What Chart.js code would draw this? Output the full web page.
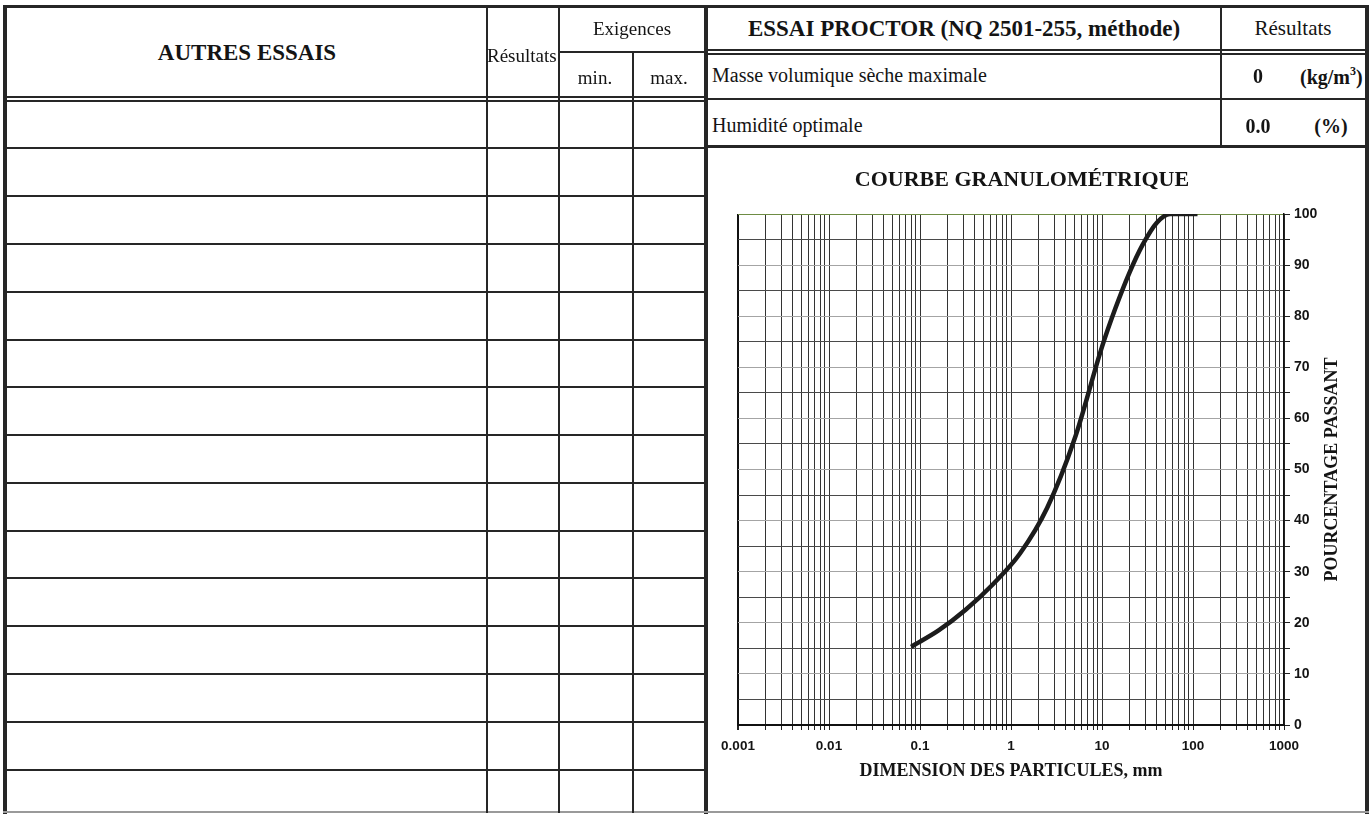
<!DOCTYPE html>
<html lang="fr">
<head>
<meta charset="utf-8">
<title>Courbe granulométrique</title>
<script src="https://cdn.jsdelivr.net/npm/chart.js@4.4.1/dist/chart.umd.min.js"></script>
<style>
    html, body { margin: 0; padding: 0; background: #fff; }
    #page { position: relative; width: 1370px; height: 814px; overflow: hidden; background: #fff;
            font-family: "Liberation Serif", "Times New Roman", serif; color: #141414; }
    #chart { position: absolute; left: 705px; top: 147px; }
    .ln { position: absolute; background: #262626; }
    .txt { position: absolute; white-space: nowrap; line-height: 1; transform: translateY(-50%); }
    .c { transform: translate(-50%, -50%); }
    .b { font-weight: bold; }
</style>
</head>
<body>
<div id="page">
    <canvas id="chart" width="660" height="667"></canvas>
</div>
<script>
// grain size curve
const sieveSizes = [0.08, 0.16, 0.315, 0.63, 1.25, 2.5, 5, 10, 14, 20, 28, 40, 56, 80, 112];
const percentPassing = [15.3, 18.5, 22.5, 27.5, 33.5, 42.5, 56, 74, 81.5, 88.5, 94, 98.3, 100, 100, 100];

const xTickValues = [0.001, 0.01, 0.1, 1, 10, 100, 1000];
const xTickLabels = ['0.001', '0.01', '0.1', '1', '10', '100', '1000'];
const yTickValues = [0, 10, 20, 30, 40, 50, 60, 70, 80, 90, 100];
const yTickLabels = ['0', '10', '20', '30', '40', '50', '60', '70', '80', '90', '100'];

const chartTitle = 'COURBE GRANULOMÉTRIQUE';
const xAxisTitle = 'DIMENSION DES PARTICULES, mm';
const yAxisTitle = 'POURCENTAGE PASSANT';

const proctorDensity = '0';
const proctorMoisture = '0.0';

const SERIF = '"Liberation Serif", "Times New Roman", serif';
const SANS = '"Liberation Sans", Arial, sans-serif';

// ---------- form (lines + text) ----------
const page = document.getElementById('page');

function line(x, y, w, h, color) {
    const d = document.createElement('div');
    d.className = 'ln';
    d.style.left = x + 'px';
    d.style.top = y + 'px';
    d.style.width = w + 'px';
    d.style.height = h + 'px';
    if (color) d.style.background = color;
    page.appendChild(d);
}

function text(str, x, y, size, cls, html) {
    const d = document.createElement('div');
    d.className = 'txt ' + (cls || '');
    d.style.left = x + 'px';
    d.style.top = y + 'px';
    d.style.fontSize = size + 'px';
    if (html) d.innerHTML = str; else d.textContent = str;
    page.appendChild(d);
}

// outer frame
line(3, 5, 1366, 3);
line(3, 5, 4, 809);
line(1365, 5, 4, 809);
line(704, 5, 4, 809);
line(3, 811, 1366, 2, '#9a9a9a');

// left table
line(7, 96, 697, 2);
line(7, 100, 697, 2);
[147, 195, 243, 290.5, 338.5, 386, 434, 482, 529.5, 577, 625, 673, 720.5, 768.5].forEach(y => line(7, y, 697, 2));
line(558, 51, 146, 2);
line(486, 7, 2, 806);
line(558, 7, 2, 806);
line(632, 51, 2, 762);

// right header
line(708, 49, 657, 2);
line(708, 53, 657, 2);
line(708, 98, 657, 2);
line(708, 145, 657, 3);
line(1220, 7, 2, 139);

text('AUTRES ESSAIS', 247, 52, 23, 'c b');
text('Résultats', 487, 55, 19, '');
text('Exigences', 632, 28, 19, 'c');
text('min.', 595, 77, 19, 'c');
text('max.', 669, 77, 19, 'c');

text('ESSAI PROCTOR (NQ 2501-255, méthode)', 964, 28, 23, 'c b');
text('Résultats', 1293, 28, 21, 'c');
text('Masse volumique sèche maximale', 712, 75, 20, '');
text('Humidité optimale', 712, 125, 20, '');
text(proctorDensity, 1258, 76, 20, 'c b');
text('(kg/m<sup style="font-size:12px;vertical-align:9px">3</sup>)', 1300, 76, 20, 'b', true);
text(proctorMoisture, 1258, 126, 20, 'c b');
text('(%)', 1331, 126, 20, 'c b');

// ---------- chart ----------
function xLabel(v) {
    const i = xTickValues.findIndex(t => Math.abs(Math.log10(t) - Math.log10(v)) < 1e-6);
    return i >= 0 ? xTickLabels[i] : '';
}

const titlesPlugin = {
    id: 'titles',
    afterDraw(chart) {
        const { ctx, chartArea } = chart;
        ctx.save();
        ctx.fillStyle = '#141414';
        ctx.textAlign = 'center';
        ctx.textBaseline = 'middle';
        ctx.font = 'bold 22px ' + SERIF;
        ctx.fillText(chartTitle, (chartArea.left + chartArea.right) / 2 + 11, chartArea.top - 34);
        ctx.translate(chartArea.right + 48, (chartArea.top + chartArea.bottom) / 2);
        ctx.rotate(-Math.PI / 2);
        ctx.font = 'bold 18px ' + SERIF;
        ctx.fillText(yAxisTitle, 0, 0);
        ctx.restore();
    }
};

new Chart(document.getElementById('chart').getContext('2d'), {
    type: 'line',
    data: {
        datasets: [{
            data: sieveSizes.map((s, i) => ({ x: s, y: percentPassing[i] })),
            borderColor: '#1c1c1c',
            borderWidth: 4.5,
            pointRadius: 0,
            fill: false,
            cubicInterpolationMode: 'monotone'
        }]
    },
    options: {
        responsive: false,
        animation: false,
        devicePixelRatio: 1,
        layout: { padding: { left: 33, top: 67, right: 0, bottom: 0 } },
        plugins: {
            legend: { display: false },
            tooltip: { enabled: false },
            title: { display: false }
        },
        scales: {
            x: {
                type: 'logarithmic',
                min: 0.001,
                max: 1000,
                afterBuildTicks: scale => {
                    const t = [];
                    for (let e = -3; e < 3; e++) {
                        for (let k = 1; k < 10; k++) t.push({ value: k * Math.pow(10, e) });
                    }
                    t.push({ value: 1000 });
                    scale.ticks = t;
                },
                afterFit: scale => { scale.height = 89; },
                ticks: {
                    autoSkip: false,
                    maxRotation: 0,
                    padding: 8,
                    color: '#141414',
                    font: { family: SANS, size: 13.5, weight: 'bold' },
                    callback: v => xLabel(v)
                },
                grid: {
                    color: c => c.index === 0 ? '#111' : '#333',
                    lineWidth: c => c.index === 0 ? 2 : 1,
                    tickLength: 5,
                    tickColor: '#222'
                },
                border: { display: true, color: '#111', width: 2 },
                title: {
                    display: true,
                    text: xAxisTitle,
                    color: '#141414',
                    font: { family: SERIF, size: 18, weight: 'bold' },
                    padding: { top: 0, bottom: 32 }
                }
            },
            y: {
                position: 'right',
                min: 0,
                max: 100,
                afterFit: scale => { scale.width = 81; },
                ticks: {
                    stepSize: 5,
                    autoSkip: false,
                    padding: 4,
                    color: '#141414',
                    font: { family: SANS, size: 14, weight: 'bold' },
                    callback: v => {
                        const i = yTickValues.indexOf(v);
                        return i >= 0 ? yTickLabels[i] : '';
                    }
                },
                grid: {
                    color: c => {
                        const v = c.tick ? c.tick.value : 0;
                        if (v === 100) return '#6e8c44';
                        return v % 10 === 0 ? '#a4a4a4' : '#4a4a4a';
                    },
                    lineWidth: 1,
                    tickLength: 6,
                    tickColor: '#222'
                },
                border: { display: true, color: '#111', width: 1.5 }
            }
        }
    },
    plugins: [titlesPlugin]
});
</script>
</body>
</html>
